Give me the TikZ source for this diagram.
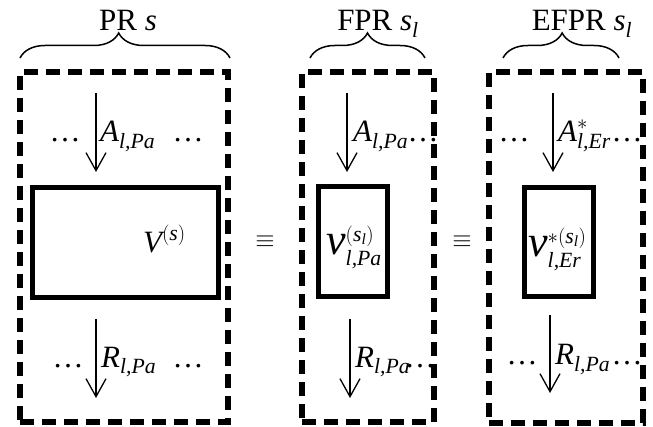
\documentclass[tikz,border=0pt]{standalone}
\usepackage{amsmath}
\usepackage{fontspec}
\setmainfont{Liberation Serif}
\usetikzlibrary{arrows.meta,decorations.pathreplacing}
\tikzset{
  dbox/.style={draw, line width=5.5pt, dash pattern=on 14pt off 8pt, inner sep=0pt},
  ibox/.style={draw, line width=5pt, inner sep=0pt},
  flow/.style={-{Straight Barb[length=18pt,width=20pt]}, line width=1.3pt},
  lbl/.style={font=\fontsize{31}{36}\selectfont, inner sep=0pt, anchor=base west},
  dots/.style={font=\fontsize{31}{36}\selectfont, inner sep=0pt, anchor=base},
  ttl/.style={font=\fontsize{31}{36}\selectfont, inner sep=0pt, anchor=base},
  eqv/.style={font=\fontsize{34}{36}\selectfont, inner sep=0pt},
  brc/.style={decorate, decoration={brace, amplitude=25pt, aspect=#1}, line width=1.5pt},
  brc/.default=0.5
}
\newcommand{\bigv}{\textit{\fontsize{44}{44}\selectfont v}}
\begin{document}
\begin{tikzpicture}[x=1pt,y=-1pt]
\useasboundingbox (0,0) rectangle (653,427);
% titles
\node[ttl] (t1) at (128,31) {PR \textit{s}};
\node[ttl] (t2) at (378,31) {FPR $\textit{s}_{\textit{l}}$};
\node[ttl] (t3) at (582,31) {EFPR $\textit{s}_{\textit{l}}$};
% braces
\coordinate (b1l) at (20,58); \coordinate (b1r) at (230,58);
\coordinate (b2l) at (310,58); \coordinate (b2r) at (425,58);
\coordinate (b3l) at (503,58); \coordinate (b3r) at (619,58);
\draw[brc=0.47] (b1l) -- (b1r);
\draw[brc=0.5] (b2l) -- (b2r);
\draw[brc=0.51] (b3l) -- (b3r);
% inner boxes
\node[ibox, minimum width=186pt, minimum height=110pt] (i1) at (125,243) {};
\node[ibox, minimum width=69pt, minimum height=110pt] (i2) at (352.5,242) {};
\node[ibox, minimum width=69pt, minimum height=109pt] (i3) at (558.5,242.5) {};
% inner labels
\node[lbl] (V1) at (143,253) {$\textit{V}^{(\textit{s})}$};
\node[lbl] (V2) at (326,255) {$\bigv^{(\textit{s}_{\textit{l}})}_{\textit{l,Pa}}$};
\node[lbl] (V3) at (528,257) {$\bigv^{*(\textit{s}_{\textit{l}})}_{\textit{l,Er}}$};
% equivalences
\node[eqv] (e1) at (265,242) {$\equiv$};
\node[eqv] (e2) at (462,242) {$\equiv$};
% arrows
\coordinate (a1s) at (96,93);  \coordinate (a1e) at (96,172);
\coordinate (a2s) at (347,93); \coordinate (a2e) at (347,172);
\coordinate (a3s) at (553,93); \coordinate (a3e) at (553,172);
\coordinate (r1s) at (96,319);  \coordinate (r1e) at (96,398);
\coordinate (r2s) at (350,319); \coordinate (r2e) at (350,398);
\coordinate (r3s) at (550,315); \coordinate (r3e) at (550,393);
\foreach \s/\e in {a1s/a1e,a2s/a2e,a3s/a3e,r1s/r1e,r2s/r2e,r3s/r3e}
  \draw[flow] (\s) -- (\e);
% arrow labels
\node[lbl] (A1) at (100,142) {$\textit{A}_{\textit{l,Pa}}$};
\node[lbl] (A2) at (353,142) {$\textit{A}_{\textit{l,Pa}}$};
\node[lbl] (A3) at (558,142) {$\textit{A}^{*}_{\textit{l,Er}}$};
\node[lbl] (R1) at (101,367) {$\textit{R}_{\textit{l,Pa}}$};
\node[lbl] (R2) at (355,367) {$\textit{R}_{\textit{l,Pa}}$};
\node[lbl] (R3) at (555,365) {$\textit{R}_{\textit{l,Pa}}$};
% dots
\node[dots] (d1a) at (65,142) {…};
\node[dots] (d1b) at (188,142) {…};
\node[dots] (d1c) at (68,367) {…};
\node[dots] (d1d) at (188,367) {…};
\node[dots] (d2a) at (423,142) {…};
\node[dots] (d2b) at (420,367) {…};
\node[dots] (d3a) at (514,142) {…};
\node[dots] (d3b) at (627,142) {…};
\node[dots] (d3c) at (522,365) {…};
\node[dots] (d3d) at (627,365) {…};
% dashed outer boxes
\node[dbox, minimum width=208pt, minimum height=350pt] (p1) at (124,247) {};
\node[dbox, minimum width=132pt, minimum height=350pt] (p2) at (368,247) {};
\node[dbox, minimum width=154pt, minimum height=351pt] (p3) at (566,247.5) {};
\end{tikzpicture}
\end{document}
